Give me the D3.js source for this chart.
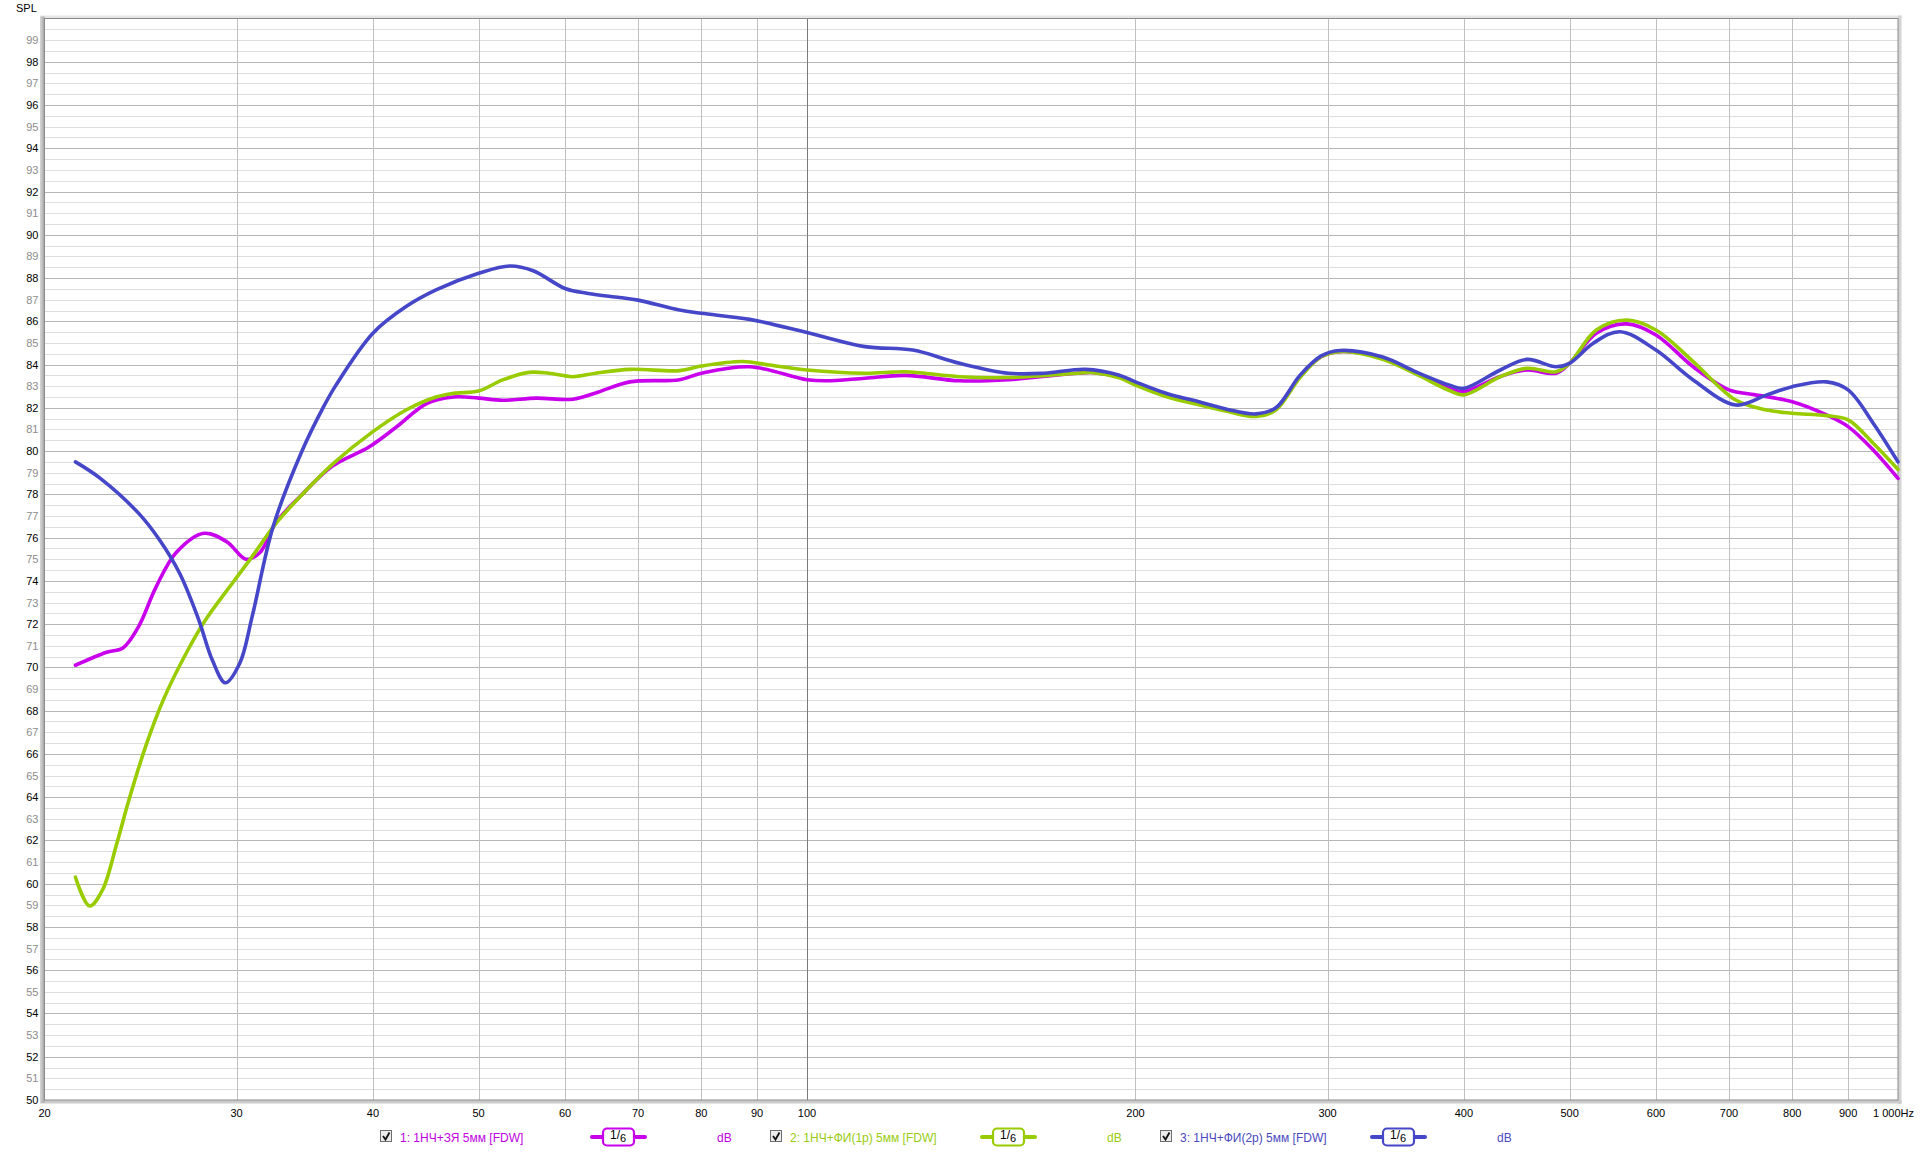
<!DOCTYPE html>
<html><head><meta charset="utf-8">
<script src="https://cdn.jsdelivr.net/npm/d3@7"></script>
<style>
body{margin:0;background:#fff;}
svg{display:block;}
text{font-family:"Liberation Sans",Arial,sans-serif;}
</style>
</head><body>
<svg id="c" width="1920" height="1152"></svg>
<script>
// ---- data (frequency in Hz, SPL in dB) ----
const freq1 = [21.35,22.8,23.6,24.4,25.3,26.4,28.0,29.4,30.6,31.5,32.6,34.3,36.7,39.7,42.0,44.8,47.4,50,52.6,56.5,61,64.1,68.8,76.4,80,88.6,100,104,113,123,138,153,177,183,193,200,214,226,242,258,269,283,296,308,337,362,388,400,432,457,486,500,529,564,600,649,700,740,800,860,900,949,1000];
const spl1  = [70.1,70.7,70.9,71.9,73.7,75.3,76.2,75.8,75.0,75.3,76.7,77.9,79.3,80.2,81.1,82.2,82.5,82.45,82.35,82.45,82.4,82.7,83.2,83.3,83.6,83.9,83.3,83.25,83.37,83.5,83.25,83.3,83.6,83.63,83.44,83.13,82.6,82.28,81.9,81.67,81.98,83.44,84.36,84.6,84.3,83.6,82.9,82.75,83.45,83.75,83.6,84.06,85.45,85.88,85.37,83.9,82.83,82.6,82.28,81.67,81.13,80.05,78.74];

const freq2 = [21.35,22.0,22.6,23.3,23.9,24.8,25.7,27.0,28.1,29.8,31.0,32.6,34.3,36.8,40,42.9,45.7,47.4,50,52.6,55.6,58,61,64,68.8,76.4,80,87.3,92.4,100,113,123,138,153,177,183,193,200,214,226,242,258,269,283,296,308,337,362,388,400,432,457,486,500,529,564,600,649,710,758,800,860,900,949,1000];
const spl2  = [60.3,58.97,59.7,61.87,63.87,66.45,68.5,70.7,72.2,73.96,75.12,76.66,77.89,79.43,80.9,81.9,82.5,82.67,82.78,83.29,83.64,83.6,83.44,83.6,83.78,83.72,83.93,84.14,83.98,83.75,83.6,83.67,83.44,83.4,83.6,83.63,83.4,83.05,82.5,82.2,81.85,81.6,81.9,83.4,84.36,84.6,84.25,83.55,82.8,82.6,83.44,83.83,83.67,84.06,85.6,86.06,85.6,84.14,82.36,81.9,81.75,81.64,81.44,80.36,79.15];

const freq3 = [21.35,22.5,24.4,25.5,26.6,27.7,28.5,29.3,30.2,31.0,32.4,34.4,36.0,37.0,40,42.9,45.7,50,53.4,56.1,60,63,67.3,70,76.4,80,88.6,100,113,125,138,153,165,180,193,200,214,226,242,258,269,283,296,308,337,362,388,400,432,457,486,500,526,556,600,649,710,758,800,860,900,949,1000];
const spl3  = [79.5,78.74,77.12,75.89,74.35,72.19,70.34,69.29,70.19,72.35,76.5,79.95,82.0,83.05,85.45,86.68,87.45,88.22,88.56,88.34,87.52,87.29,87.1,86.98,86.52,86.37,86.09,85.48,84.83,84.67,84.06,83.6,83.6,83.78,83.52,83.2,82.65,82.35,81.95,81.72,82.0,83.5,84.4,84.65,84.35,83.65,83.05,82.9,83.75,84.24,83.9,84.06,85.0,85.52,84.67,83.29,82.13,82.6,82.98,83.2,82.83,81.29,79.5];

const seriesNames  = ["1: 1НЧ+ЗЯ 5мм [FDW]", "2: 1НЧ+ФИ(1р) 5мм [FDW]", "3: 1НЧ+ФИ(2р) 5мм [FDW]"];
const seriesColors = ["#c800ec", "#99cc00", "#4646c8"];
const textColors   = ["#c000e0", "#99cc11", "#4a4ac0"];

const xTickValues = [20,30,40,50,60,70,80,90,100,200,300,400,500,600,700,800,900,1000];
const xTickLabels = ["20","30","40","50","60","70","80","90","100","200","300","400","500","600","700","800","900","1 000Hz"];
const yTickValues = d3.range(50, 100);

// ---- layout ----
const svg = d3.select("#c");
const L = 44.5, R = 1898, T = 18.5, B = 1100;
const x = d3.scaleLog().domain([20, 1000]).range([L, R]);
const y = d3.scaleLinear().domain([50, 100]).range([B, T]);

// frame shading
const defs = svg.append("defs");
const lg = defs.append("linearGradient").attr("id","lg").attr("x1","0").attr("x2","1");
lg.append("stop").attr("offset","0").attr("stop-color","#d8d8d8");
lg.append("stop").attr("offset","1").attr("stop-color","#a4a4a4");
svg.append("rect").attr("x",L-4.5).attr("y",T-3).attr("width",R-L+8).attr("height",3).attr("fill","#e6e6e6");
svg.append("rect").attr("x",R).attr("y",T-3).attr("width",3.5).attr("height",B-T+7).attr("fill","#d4d4d4");
svg.append("rect").attr("x",L-4.5).attr("y",B).attr("width",R-L+8).attr("height",3.5).attr("fill","#cccccc");
svg.append("rect").attr("x",L-4.5).attr("y",T-2).attr("width",4.5).attr("height",B-T+5).attr("fill","url(#lg)");
svg.append("rect").attr("x",L).attr("y",T).attr("width",R-L).attr("height",B-T).attr("fill","#fff");

// horizontal grid every 0.5 dB
const hLines = d3.range(50.5, 100, 0.5);
svg.append("g").selectAll("line").data(hLines).join("line")
  .attr("x1",L).attr("x2",R)
  .attr("y1",d=>Math.round(y(d))+0.5).attr("y2",d=>Math.round(y(d))+0.5)
  .attr("stroke",d=>(d%2===0)?"#b6b6b6":"#dedede").attr("stroke-width",1);

// vertical grid
svg.append("g").selectAll("line").data(xTickValues.filter(v=>v>20&&v<1000)).join("line")
  .attr("y1",T).attr("y2",B)
  .attr("x1",d=>Math.round(x(d))+0.5).attr("x2",d=>Math.round(x(d))+0.5)
  .attr("stroke",d=>d===100?"#7a7a7a":"#c0c0c0").attr("stroke-width",1);

// plot border
svg.append("rect").attr("x",L).attr("y",T).attr("width",R-L).attr("height",B-T)
  .attr("fill","none").attr("stroke","#8a8a8a").attr("stroke-width",1);

// y labels
svg.append("g").selectAll("text").data(yTickValues).join("text")
  .attr("x",38.5).attr("y",d=>y(d)+4)
  .attr("text-anchor","end").attr("font-size",11)
  .attr("fill",d=>d%2===0?"#000":"#8c8c8c")
  .text(d=>d);
svg.append("text").attr("x",16).attr("y",12).attr("font-size",11).attr("fill","#000").text("SPL");

// x labels
svg.append("g").selectAll("text").data(xTickValues).join("text")
  .attr("x",(d,i)=> i===xTickValues.length-1 ? 1914 : x(d))
  .attr("y",1117)
  .attr("text-anchor",(d,i)=> i===xTickValues.length-1 ? "end" : "middle")
  .attr("font-size",11).attr("fill","#000")
  .text((d,i)=>xTickLabels[i]);

// curves
const series = [
  {f:freq1, v:spl1},
  {f:freq2, v:spl2},
  {f:freq3, v:spl3}
];
const line = d3.line().x(d=>x(d[0])).y(d=>y(d[1])).curve(d3.curveCatmullRom.alpha(0.5));
series.forEach((s,i)=>{
  svg.append("path")
    .attr("d", line(s.f.map((f,j)=>[f, s.v[j]])))
    .attr("fill","none").attr("stroke",seriesColors[i])
    .attr("stroke-width",3.6).attr("stroke-linejoin","round").attr("stroke-linecap","round");
});

// legend
const ly = 1137;
seriesNames.forEach((name,i)=>{
  const off = i*390;
  const g = svg.append("g");
  g.append("rect").attr("x",380.5+off).attr("y",ly-6.5).attr("width",11).attr("height",11)
    .attr("fill","#ececec").attr("stroke","#6e6e6e").attr("stroke-width",1);
  g.append("path").attr("d",`M${383+off},${ly-1} L${385.5+off},${ly+2.5} L${389.5+off},${ly-4.5}`)
    .attr("fill","none").attr("stroke","#111").attr("stroke-width",1.8);
  g.append("text").attr("x",400+off).attr("y",ly+4.5).attr("font-size",12)
    .attr("fill",textColors[i]).text(name);
  g.append("line").attr("x1",592+off).attr("x2",645+off).attr("y1",ly).attr("y2",ly)
    .attr("stroke",seriesColors[i]).attr("stroke-width",4).attr("stroke-linecap","round");
  g.append("rect").attr("x",603+off).attr("y",ly-8.5).attr("width",31).attr("height",17).attr("rx",4)
    .attr("fill","#fff").attr("stroke",seriesColors[i]).attr("stroke-width",2.2);
  const t = g.append("text").attr("x",610+off).attr("y",ly+3).attr("font-size",12).attr("fill","#000");
  t.append("tspan").attr("dy",-1).text("1");
  t.append("tspan").attr("dy",0).text("/");
  t.append("tspan").attr("dy",3).attr("font-size",11).text("6");
  g.append("text").attr("x",717+off).attr("y",ly+4.5).attr("font-size",12)
    .attr("fill",textColors[i]).text("dB");
});
</script>
</body></html>
